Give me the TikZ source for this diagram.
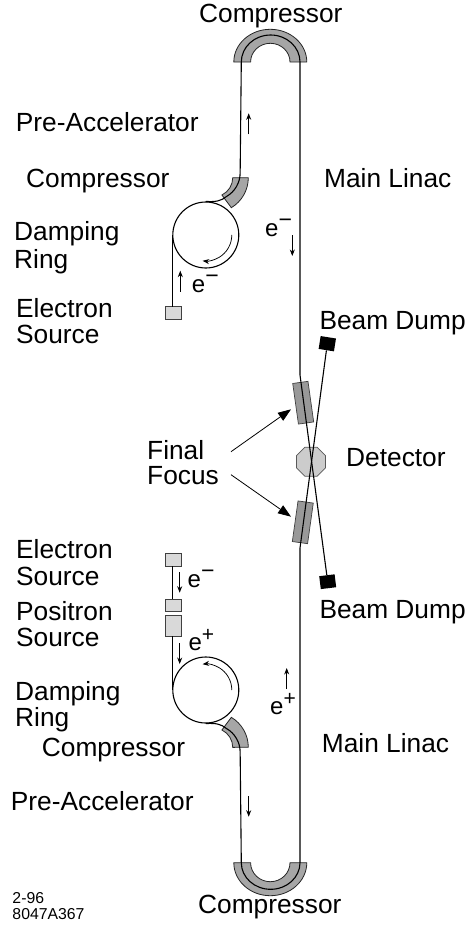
\documentclass[tikz,border=0pt]{standalone}
\usepackage{fontspec}
\setmainfont{Liberation Sans}
\usetikzlibrary{arrows.meta,shapes.geometric}
\newcommand{\sgnm}{\raisebox{9pt}{\fontsize{23pt}{23pt}\selectfont −}}
\newcommand{\sgnp}{\raisebox{8.8pt}{\fontsize{21pt}{21pt}\selectfont +}}
\tikzset{
  x=1pt,y=1pt,
  lbl/.style={anchor=base west,inner sep=0pt,font=\fontsize{26.3pt}{28pt}\selectfont,align=left},
  elbl/.style={anchor=base west,inner sep=0pt,font=\fontsize{24pt}{28pt}\selectfont},
  tiny/.style={anchor=base west,inner sep=0pt,font=\fontsize{15.8pt}{16pt}\selectfont,align=left},
  beam/.style={line width=1.1pt,draw=black},
  band/.style={draw=black!85,line width=0.8pt,fill=black!35},
  srcbox/.style={draw=black!75,line width=0.7pt,fill=black!15,inner sep=0pt,outer sep=0pt},
  ffbox/.style={draw=black!75,line width=0.7pt,fill=black!40,inner sep=0pt,minimum width=15.4pt,minimum height=41pt},
  dumpbox/.style={fill=black,inner sep=0pt,minimum width=15.5pt,minimum height=13pt},
  small/.style={line width=0.8pt,-{Stealth[length=6.5pt,width=5pt]}},
  big/.style={line width=0.8pt,-{Triangle[length=13pt,width=9.5pt]}},
  ringline/.style={line width=0.75pt,-{Stealth[length=6.5pt,width=5pt]}},
}
\begin{document}
\begin{tikzpicture}
\useasboundingbox (0,0) rectangle (467,-926);
% compressor bands
\draw[band] (233.8,-62) arc[start angle=180,end angle=0,x radius=36.5pt,y radius=32.7pt]
  -- (290,-62) arc[start angle=0,end angle=180,x radius=19.7pt,y radius=18.7pt] -- cycle;
\draw[band] (233.8,-862.7) arc[start angle=180,end angle=360,x radius=36.5pt,y radius=33pt]
  -- (290,-862.7) arc[start angle=360,end angle=180,x radius=19.7pt,y radius=19pt] -- cycle;
\draw[band] (248.3,-177.7) arc[start angle=0,end angle=-59,radius=35pt]
  -- (221.9,-195) arc[start angle=-64,end angle=0,radius=19.3pt] -- cycle;
\draw[band] (248.3,-747.3) arc[start angle=0,end angle=59,radius=35pt]
  -- (221.9,-730) arc[start angle=64,end angle=0,radius=19.3pt] -- cycle;
% final focus, dumps, detector
\node[ffbox,rotate=8] (ffa) at (303.2,-402.7) {};
\node[ffbox,rotate=-8] (ffb) at (302.8,-522.3) {};
\node[regular polygon,regular polygon sides=8,minimum size=31.5pt,inner sep=0pt,draw=black!65,line width=0.7pt,fill=black!20] (det) at (311,-461.7) {};
\node[dumpbox,rotate=-9] (dumpa) at (327.3,-343.7) {};
\node[dumpbox,rotate=7] (dumpb) at (327.7,-581.7) {};
% rings
\node[circle,draw=black,line width=1.1pt,minimum size=66pt,inner sep=0pt] (ringa) at (205.8,-235) {};
\node[circle,draw=black,line width=1.1pt,minimum size=66pt,inner sep=0pt] (ringb) at (205.8,-690) {};
% sources
\node[srcbox,minimum width=15.7pt,minimum height=12.6pt] (srca) at (173,-313) {};
\node[srcbox,minimum width=15.7pt,minimum height=12.6pt] (srcb) at (173,-559.7) {};
\node[srcbox,minimum width=15.7pt,minimum height=12pt] (posa) at (173,-605.3) {};
\node[srcbox,minimum width=15.7pt,minimum height=20.7pt] (posb) at (173,-625.7) {};
% beam lines
\coordinate (maina) at (300,-375);
\coordinate (mainb) at (300,-548);
\draw[beam] (ringa.north) .. controls (216,-202) and (221,-201) .. (226.5,-196.5)
  arc[start angle=-60,end angle=0,radius=27.3pt] -- (241.3,-62)
  arc[start angle=180,end angle=0,x radius=29.35pt,y radius=27pt] -- (maina) -- (dumpb);
\draw[beam] (ringb.south) .. controls (216,-723) and (221,-724) .. (226.5,-728.5)
  arc[start angle=60,end angle=0,radius=27.3pt] -- (241.3,-862.7)
  arc[start angle=180,end angle=360,x radius=29.35pt,y radius=26.6pt] -- (mainb) -- (dumpa);
\draw[beam] (ringa.west) -- (srca.north -| ringa.west);
\draw[beam] (srcb.south -| ringb.west) -- (posa.north -| ringb.west);
\draw[beam] (posb.south -| ringb.west) -- (ringb.west);
% direction arrows
\coordinate (a1s) at (248.7,-134.3); \coordinate (a1e) at (248.7,-113.3);
\coordinate (a2s) at (292.3,-235);   \coordinate (a2e) at (292.3,-256);
\coordinate (a3s) at (180.3,-291.7); \coordinate (a3e) at (180.3,-270.7);
\coordinate (a4s) at (179.7,-572.3); \coordinate (a4e) at (179.7,-592.7);
\coordinate (a5s) at (179.7,-643.3); \coordinate (a5e) at (179.7,-664);
\coordinate (a6s) at (286.7,-689);   \coordinate (a6e) at (286.7,-668);
\coordinate (a7s) at (248.7,-796);   \coordinate (a7e) at (248.7,-816.7);
\foreach \k in {1,...,7} \draw[small] (a\k s) -- (a\k e);
\draw[ringline] (231.8,-235) arc[start angle=0,end angle=-97,radius=26pt];
\draw[ringline] (231.8,-690) arc[start angle=0,end angle=97,radius=26pt];
% labels
\node[lbl] (t1) at (199,-22) {Compressor};
\node[lbl] (t2) at (15.7,-131.7) {Pre-Accelerator};
\node[lbl] (t3) at (26,-187.7) {Compressor};
\node[lbl] (t4) at (324,-187.3) {Main Linac};
\node[lbl] (t5) at (14,-268.3) {Damping\\[-0.3pt]Ring};
\node[lbl] (t6) at (16,-343.3) {Electron\\[-2pt]Source};
\node[lbl] (t7) at (319.3,-329) {Beam Dump};
\node[lbl] (ff) at (147,-484.3) {Final\\[-3pt]Focus};
\node[lbl] (t8) at (346,-466) {Detector};
\node[lbl] (t9) at (16,-585) {Electron\\[-1.3pt]Source};
\node[lbl] (t10) at (16,-646.7) {Positron\\[-1.3pt]Source};
\node[lbl] (t11) at (319.3,-618.3) {Beam Dump};
\node[lbl] (t12) at (15,-726.7) {Damping\\[-1.3pt]Ring};
\node[lbl] (t13) at (41.7,-756.7) {Compressor};
\node[lbl] (t14) at (321.7,-752.3) {Main Linac};
\node[lbl] (t15) at (10.7,-810) {Pre-Accelerator};
\node[lbl] (t16) at (198,-913.3) {Compressor};
\node[tiny] (t17) at (12.3,-919.3) {2-96\\8047A367};
\node[elbl] (e1) at (265,-236) {e\sgnm};
\node[elbl] (e2) at (191.7,-292.7) {e\sgnm};
\node[elbl] (e3) at (187.5,-587.3) {e\sgnm};
\node[elbl] (e4) at (188.3,-650.7) {e\sgnp};
\node[elbl] (e5) at (270,-714) {e\sgnp};
% final focus pointers
\coordinate (ffl1) at (231,-451.7);
\coordinate (ffl2) at (231,-474.7);
\coordinate (ffp1) at (291,-409.3);
\coordinate (ffp2) at (291,-516.7);
\draw[big] (ffl1) -- (ffp1);
\draw[big] (ffl2) -- (ffp2);
\end{tikzpicture}
\end{document}
